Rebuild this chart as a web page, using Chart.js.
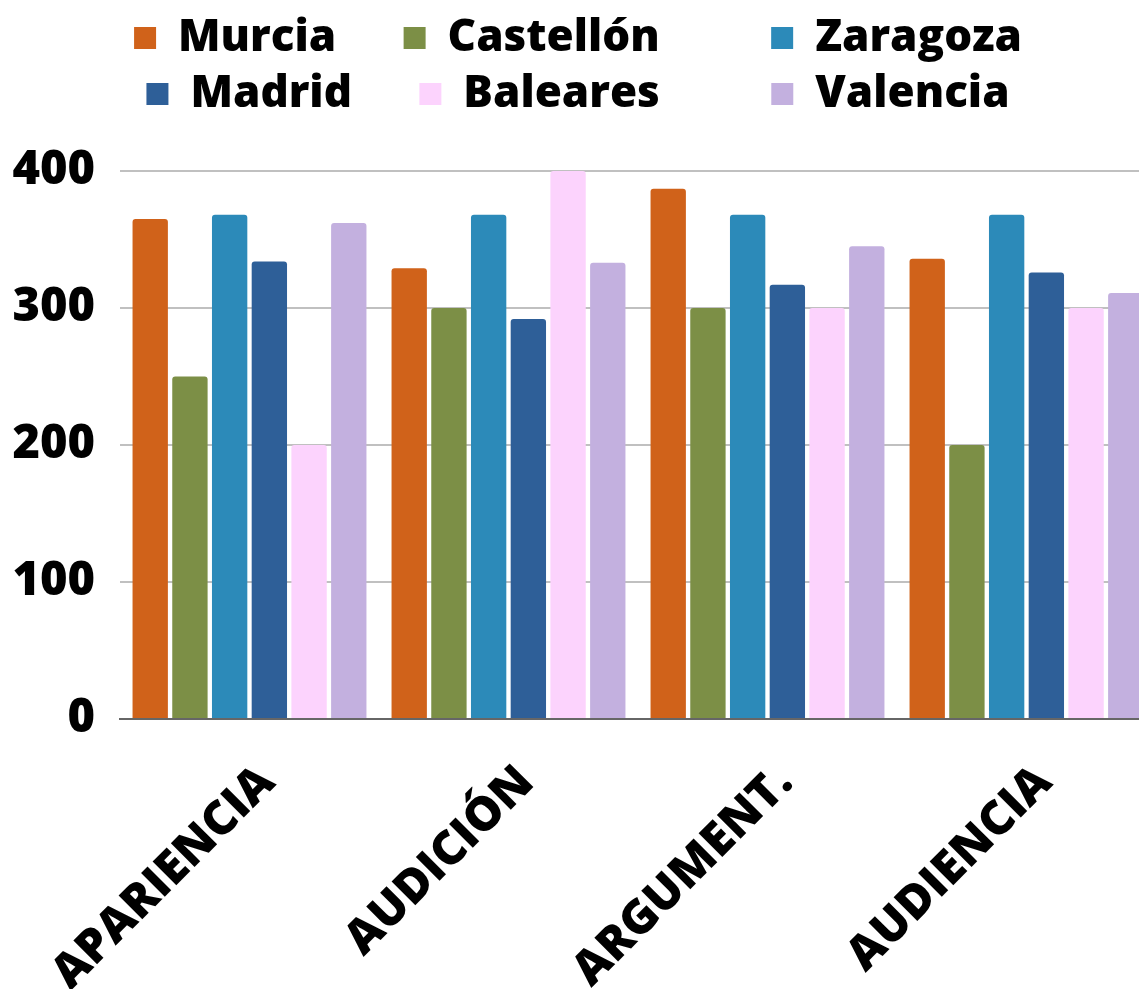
<!DOCTYPE html>
<html>
<head>
<meta charset="utf-8">
<script src="https://cdn.jsdelivr.net/npm/chart.js@4/dist/chart.umd.min.js"></script>
<style>
  html, body { margin: 0; padding: 0; overflow: hidden; background: #fff; }
  #wrap { width: 1186px; height: 989px; }
</style>
</head>
<body>
<div id="wrap"><canvas id="chart"></canvas></div>
<script>
// categorias y valores
const categories = ['APARIENCIA', 'AUDICIÓN', 'ARGUMENT.', 'AUDIENCIA'];
const murcia    = [365, 329, 387, 336];
const castellon = [250, 300, 300, 200];
const zaragoza  = [368, 368, 368, 368];
const madrid    = [334, 292, 317, 326];
const baleares  = [200, 400, 300, 300];
const valencia  = [362, 333, 345, 311];
const yTicks    = [0, 100, 200, 300, 400];

const FONT = "'Open Sans', 'Noto Sans', sans-serif";

function serie(label, data, color) {
  return {
    label: label,
    data: data,
    backgroundColor: color,
    borderWidth: 0,
    borderRadius: 3,
    barPercentage: 0.89,
    categoryPercentage: 0.92
  };
}

const datasets = [
  serie('Murcia', murcia, '#d0621a'),
  serie('Castellón', castellon, '#7c8f46'),
  serie('Zaragoza', zaragoza, '#2c8ab9'),
  serie('Madrid', madrid, '#2e5f98'),
  serie('Baleares', baleares, '#fcd3fd'),
  serie('Valencia', valencia, '#c3b0df')
];

// espacio extra entre columnas de la leyenda (3 por fila)
const gaps = ['\u2002\u2002 ', '\u2002\u2002\u2002\u2002 ', ''];

new Chart(document.getElementById('chart'), {
  type: 'bar',
  data: { labels: categories, datasets: datasets },
  options: {
    responsive: true,
    maintainAspectRatio: false,
    animation: false,
    layout: { padding: { top: 4, right: 30, left: 0, bottom: 0 } },
    plugins: {
      tooltip: { enabled: false },
      // titulo vacio: solo deja hueco entre la leyenda y el grafico
      title: { display: true, text: '', weight: 2000, font: { size: 10 }, padding: { top: 0, bottom: 33 } },
      legend: {
        position: 'top',
        weight: 3000,
        labels: {
          color: '#000',
          font: { family: FONT, size: 44, weight: 800 },
          boxWidth: 22,
          boxHeight: 22,
          padding: 12,
          generateLabels: function (chart) {
            const items = Chart.defaults.plugins.legend.labels.generateLabels(chart);
            items.forEach(function (it, i) {
              it.text = it.text + gaps[i % 3];
            });
            return items;
          }
        }
      }
    },
    scales: {
      x: {
        grid: { display: false },
        border: { display: true, color: '#666', width: 2 },
        ticks: {
          color: '#000',
          font: { family: FONT, size: 47, weight: 800 },
          minRotation: 45,
          maxRotation: 45,
          autoSkip: false,
          padding: 28,
          labelOffset: 18
        },
        afterFit: function (scale) {
          scale.height = 270;
          scale.paddingLeft = 0;
          scale.paddingRight = 0;
        }
      },
      y: {
        min: 0,
        max: 400,
        afterBuildTicks: function (scale) {
          scale.ticks = yTicks.map(function (v) { return { value: v }; });
        },
        grid: { color: '#c0c0c0', lineWidth: 2, drawTicks: false },
        border: { display: false },
        ticks: {
          color: '#000',
          padding: 25,
          font: { family: FONT, size: 47, weight: 800 }
        },
        afterFit: function (scale) {
          scale.width = 120;
        }
      }
    }
  }
});
</script>
</body>
</html>
